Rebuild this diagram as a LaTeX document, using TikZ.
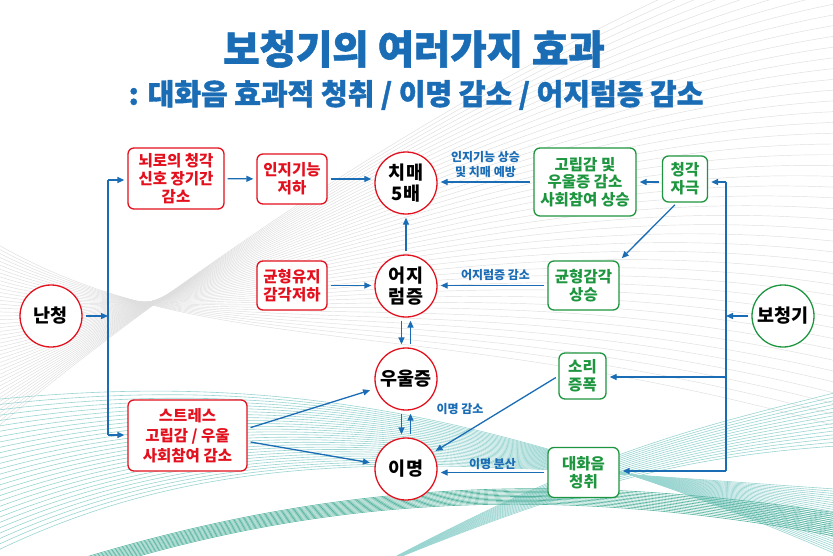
\documentclass[tikz,border=0pt]{standalone}
\usepackage{fontspec}
\setmainfont{Noto Sans CJK KR}
\usetikzlibrary{arrows.meta}
\definecolor{kblue}{HTML}{1A6DB5}
\definecolor{kred}{HTML}{E3101E}
\definecolor{kgreen}{HTML}{1E9640}
\definecolor{kteal}{HTML}{46B3AC}
\definecolor{kdteal}{HTML}{0E9478}
\tikzset{
  redcirc/.style={circle,draw=kred,line width=1.3pt,fill=white,minimum size=62pt,inner sep=0pt,align=center,font=\bfseries\fontsize{18.5}{20.5}\selectfont,text=black},
  greencirc/.style={redcirc,draw=kgreen},
  redbox/.style={rectangle,rounded corners=6pt,draw=kred,line width=1.3pt,fill=white,inner sep=0pt,align=center,font=\bfseries\fontsize{15.5}{17.7}\selectfont,text=kred},
  greenbox/.style={redbox,draw=kgreen,text=kgreen},
  arr/.style={draw=kblue,line width=1.3pt,-{Triangle[length=7pt,width=6pt]},shorten >=3pt,shorten <=3pt},
  ln/.style={draw=kblue,line width=1.3pt},
  lab/.style={text=kblue,font=\bfseries\fontsize{12}{15}\selectfont,align=center,inner sep=1pt},
  bggrey/.style={draw=gray!26,line width=0.45pt},
  bgteal/.style={draw=kteal!55,line width=0.6pt},
  bgdteal/.style={draw=kdteal!70,line width=0.6pt}
}
\begin{document}
\begin{tikzpicture}[x=1pt,y=-1pt]
\useasboundingbox (0,0) rectangle (833,555);
\fill[white] (0,0) rectangle (833,555);
% background decoration
\begin{scope}
\clip (0,0) rectangle (833,555);
\foreach \k in {0,...,46} {
  \draw[bggrey] (-10,{240+4.2*\k}) .. controls (200,{365-2.4*\k}) and ({430+3*\k},{310-6.5*\k}) .. (850,{430-11*\k});
}
\foreach \k in {0,...,28} {
  \draw[bgteal] (-10,{400+5.5*\k}) .. controls (240,{375+2*\k}) and (470,{395+2.5*\k}) .. (850,{560-2.5*\k});
}
\foreach \k in {0,...,14} {
  \draw[bgteal] (380,565) .. controls (600,{475-2*\k}) and (700,{455-2*\k}) .. (850,{445-4*\k});
}
\foreach \k in {0,...,12} {
  \draw[bgdteal] ({60+4*\k},565) .. controls (330,{480+1.5*\k}) and (560,{470+\k}) .. (850,{515+2*\k});
}
\end{scope}
% titles
\node[text=kblue,font=\bfseries\fontsize{39.5}{42}\selectfont\addfontfeature{FakeBold=1.5}] (title) at (414,49) {보청기의 여러가지 효과};
\node[text=kblue,font=\bfseries\fontsize{29}{32}\selectfont\addfontfeature{FakeBold=1.3}] (subtitle) at (416,95) {: 대화음 효과적 청취 / 이명 감소 / 어지럼증 감소};
% left nodes
\node[redcirc] (nan) at (51,316) {난청};
\node[redbox,minimum width=96pt,minimum height=61pt] (noe) at (176,178.5) {뇌로의 청각\\신호 장기간\\감소};
\node[redbox,minimum width=70pt,minimum height=50pt] (inji) at (292,179) {인지기능\\저하};
\node[redbox,minimum width=70pt,minimum height=49pt] (gyun) at (292,285.5) {균형유지\\감각저하};
\node[redbox,minimum width=119pt,minimum height=71pt,font=\bfseries\fontsize{15.5}{20}\selectfont] (stress) at (187.5,435.5) {스트레스\\고립감 / 우울\\사회참여 감소};
% center circles
\node[redcirc] (chi) at (406,183) {치매\\5배};
\node[redcirc] (eoji) at (406,286) {어지\\럼증};
\node[redcirc] (uul) at (406,379) {우울증};
\node[redcirc] (imy) at (406,469) {이명};
% right nodes
\node[greencirc] (bo) at (783,316) {보청기};
\node[greenbox,minimum width=45pt,minimum height=46pt] (cheong) at (685,179) {청각\\자극};
\node[greenbox,minimum width=102pt,minimum height=68pt] (gorip) at (585,182) {고립감 및\\우울증 감소\\사회참여 상승};
\node[greenbox,minimum width=71pt,minimum height=49pt] (gyg) at (583.5,285.5) {균형감각\\상승};
\node[greenbox,minimum width=47pt,minimum height=46pt] (sori) at (582.5,376) {소리\\증폭};
\node[greenbox,minimum width=71pt,minimum height=50pt] (dae) at (583.5,472.5) {대화음\\청취};
% left connectors
\coordinate (J) at (108,316);
\coordinate (Jt) at (108,180);
\coordinate (Jb) at (108,435);
\draw[arr,shorten >=0pt] (nan) -- (J);
\draw[ln] (Jt) -- (Jb);
\draw[arr,shorten <=0pt] (Jt) -- (Jt -| noe.west);
\draw[arr,shorten <=0pt] (Jb) -- (Jb -| stress.west);
\draw[arr] (noe) -- (inji);
\draw[arr] (inji.east) -- (inji.east -| chi.west);
\draw[arr] (gyun.east) -- (gyun.east -| eoji.west);
\draw[arr] (eoji) -- (chi);
\draw[arr] ([xshift=-4.5pt]eoji.south) -- ([xshift=-4.5pt]uul.north);
\draw[arr] ([xshift=4.5pt]uul.north) -- ([xshift=4.5pt]eoji.south);
\draw[arr] ([xshift=-4.5pt]uul.south) -- ([xshift=-4.5pt]imy.north);
\draw[arr] ([xshift=4.5pt]imy.north) -- ([xshift=4.5pt]uul.south);
\draw[arr,shorten >=6pt] ([yshift=7pt]stress.east) -- (uul);
\draw[arr,shorten >=5pt] ([yshift=-6pt]stress.east) -- (imy);
% right connectors
\coordinate (K) at (726,316);
\coordinate (Kt) at (726,182);
\coordinate (Km) at (726,377);
\coordinate (Kb) at (726,471);
\draw[arr,shorten >=0pt] (bo) -- (K);
\draw[ln] (Kt) -- (Kb);
\draw[arr,shorten <=0pt] (Kt) -- (Kt -| cheong.east);
\draw[arr,shorten <=0pt] (Km) -- (Km -| sori.east);
\draw[arr,shorten <=0pt] (Kb) -- (Kb -| dae.east);
\draw[arr] (cheong.west |- gorip.east) -- (gorip.east);
\draw[arr] (gorip.west) -- (gorip.west -| chi.east)
  node[lab,midway,above=3pt] (l1) {인지기능 상승\\및 치매 예방};
\draw[arr] ([xshift=-8pt]cheong.south) -- (gyg.north east);
\draw[arr] (gyg.west) -- (gyg.west -| eoji.east)
  node[lab,midway,above=3pt,xshift=3pt] (l2) {어지럼증 감소};
\draw[arr] (sori.west) -- (imy)
  node[lab,pos=0.56,above left=3pt] (l3) {이명 감소};
\draw[arr] (dae.west) -- (dae.west -| imy.east)
  node[lab,midway,above=1pt] (l4) {이명 분산};
\end{tikzpicture}
\end{document}
